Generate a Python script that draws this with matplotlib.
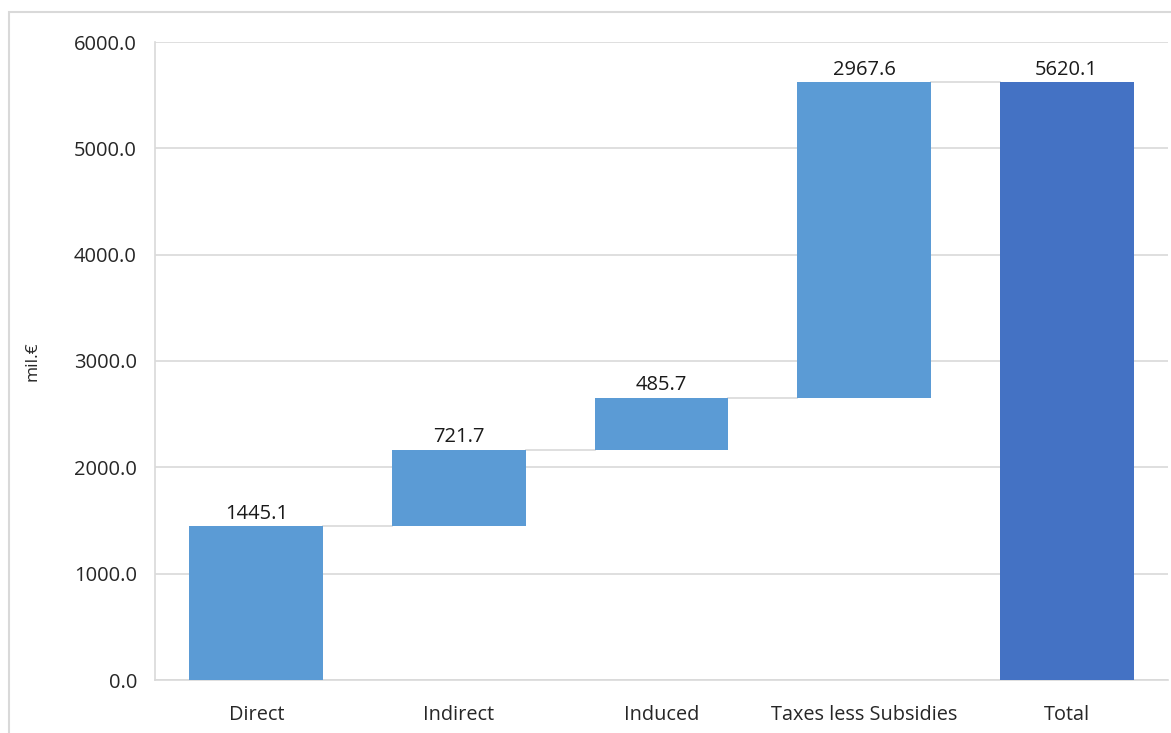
import numpy as np
import matplotlib.pyplot as plt
from matplotlib.patches import Rectangle

plt.rcParams['font.family'] = ['Open Sans', 'DejaVu Sans']

categories = ['Direct', 'Indirect', 'Induced', 'Taxes less Subsidies', 'Total']
contributions = [1445.1, 721.7, 485.7, 2967.6]
total = 5620.1

# running base for each step of the waterfall
bases = np.concatenate([[0], np.cumsum(contributions)[:-1]])
heights = contributions + [total]
bottoms = list(bases) + [0]
colors = ['#5B9BD5'] * 4 + ['#4472C4']

fig = plt.figure(figsize=(11.71, 7.33), dpi=100)
# outer frame, running off the right and bottom edges
fig.patches.append(Rectangle((9 / 1171, -0.05), 1.2, 1.05 - 12 / 733,
                             transform=fig.transFigure, fill=False,
                             edgecolor='#d9d9d9', linewidth=1.5))
ax = fig.add_axes([155 / 1171, 53 / 733, 1013 / 1171, 638 / 733])

x = np.arange(len(categories))
width = 0.66
ax.bar(x, heights, width, bottom=bottoms, color=colors, zorder=3)

# connectors between consecutive bars
tops = np.cumsum(contributions)
for i, t in enumerate(tops):
    ax.plot([i + width / 2, i + 1 - width / 2], [t, t], color='#d9d9d9', lw=1.2, zorder=2)

for xi, b, h in zip(x, bottoms, heights):
    ax.text(xi, b + h + 25, f'{h:.1f}', ha='center', va='bottom', fontsize=14.5, color='#1a1a1a')

ax.set_xlim(-0.5, 4.5)
ax.set_ylim(0, 6000)
ax.set_yticks(np.arange(0, 6001, 1000))
ax.set_yticklabels([f'{v:.1f}' for v in np.arange(0, 6001, 1000)])
ax.set_xticks(x)
ax.set_xticklabels(categories)
ax.tick_params(axis='both', length=0, labelsize=14.5, colors='#262626')
ax.tick_params(axis='x', labelsize=14.3, pad=18)
ax.tick_params(axis='y', pad=13)
ax.grid(axis='y', color='#d9d9d9', lw=1.2, zorder=0)
for side in ['top', 'right']:
    ax.spines[side].set_visible(False)
ax.spines['left'].set_color('#d9d9d9')
ax.spines['bottom'].set_color('#d9d9d9')
ax.spines['left'].set_linewidth(1.2)
ax.spines['bottom'].set_linewidth(1.2)
ax.set_ylabel('mil.€', fontsize=12.5, color='#262626', labelpad=24)

fig.savefig('out.png', dpi=100)
